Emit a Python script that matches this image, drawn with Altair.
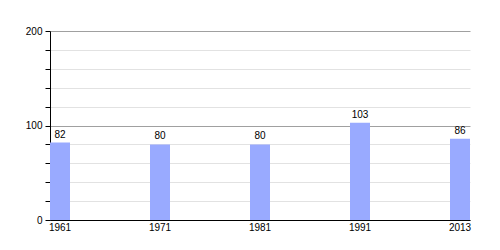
import altair as alt
import pandas as pd

years = ["1961", "1971", "1981", "1991", "2013"]
values = [82, 80, 80, 103, 86]

df = pd.DataFrame({"year": years, "value": values})

font = "Liberation Sans"

x = alt.X("year:N", sort=years,
          scale=alt.Scale(paddingInner=0.8, paddingOuter=0),
          axis=alt.Axis(title=None, labelAngle=0, ticks=False, domainColor="black",
                        labelColor="black", labelFontSize=10, labelFont=font, labelPadding=2))
y = alt.Y("value:Q",
          scale=alt.Scale(domain=[0, 200], nice=False),
          axis=alt.Axis(title=None, values=list(range(0, 201, 20)),
                        labelExpr="datum.value % 100 === 0 ? datum.label : ''",
                        labelOverlap=False,
                        domainColor="black", tickColor="black", tickSize=5,
                        labelColor="black", labelFontSize=10, labelFont=font, labelPadding=3,
                        gridColor={"condition": {"test": "datum.value % 100 === 0", "value": "#a0a0a0"}, "value": "#e2e2e2"}))

bars = alt.Chart(df).mark_bar(color="#99aaff").encode(x=x, y=y)
text = alt.Chart(df).mark_text(baseline="bottom", dy=-3, fontSize=10, font=font, color="black").encode(
    x=x, y=y, text="value:Q")

chart = (bars + text).properties(
    width=420, height=189,
    autosize=alt.AutoSizeParams(type="none"),
    padding={"left": 50, "top": 31, "right": 30, "bottom": 30},
).configure_view(stroke=None)
chart.save("out.html", embed_options={"renderer": "svg", "actions": False})
